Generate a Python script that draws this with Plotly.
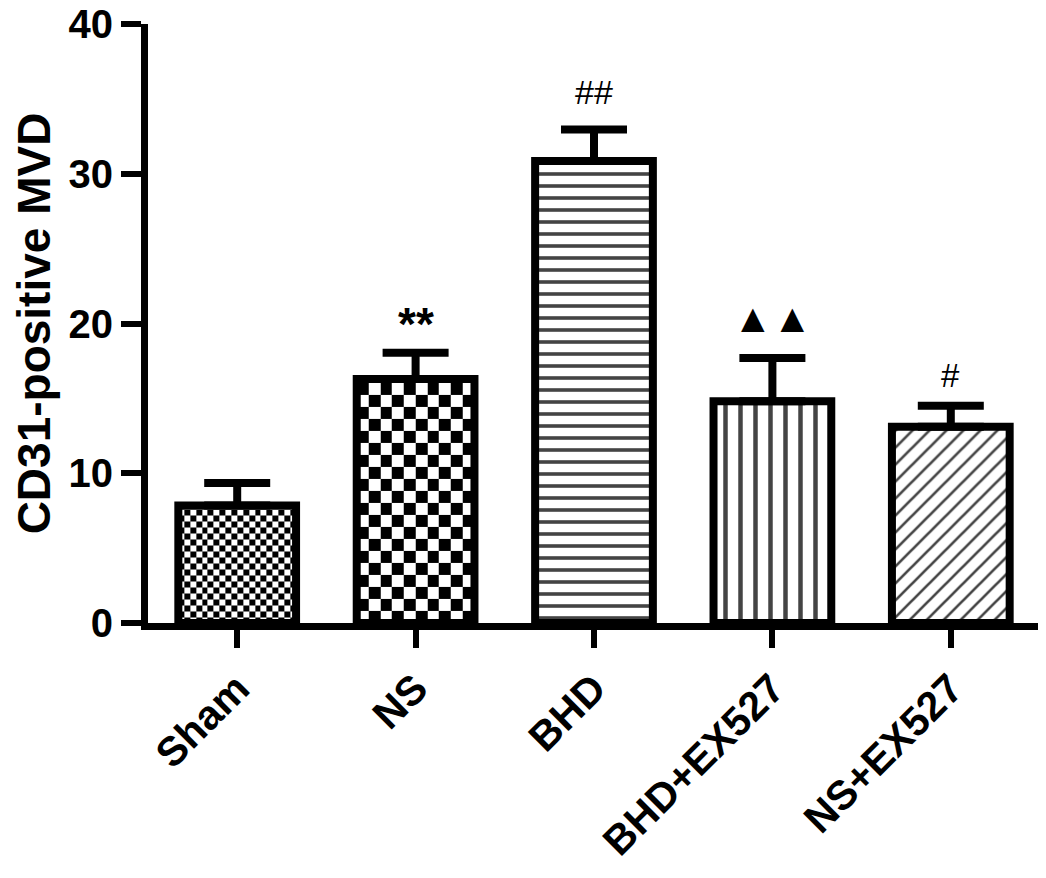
import numpy as np
import plotly.graph_objects as go

# values
groups = ["Sham", "NS", "BHD", "BHD+EX527", "NS+EX527"]
mvd_mean = [7.85, 16.3, 30.85, 14.8, 13.1]
mvd_sem = [1.5, 1.75, 2.1, 2.9, 1.4]
sig_marks = ["", "**", "##", "▲▲", "#"]
y_ticks = [0, 10, 20, 30, 40]

BAR_W = 0.66
FONT = "Arial, Liberation Sans, DejaVu Sans, sans-serif"
xs = list(range(len(groups)))

fig = go.Figure()


# plotly has no checkerboard pattern, so the first two bars get a
# heatmap texture underneath a transparent bar outline
def add_checker(i, ncols, cell_h):
    top = mvd_mean[i]
    xe = np.linspace(i - BAR_W / 2, i + BAR_W / 2, ncols + 1)
    ye = np.append(np.arange(0, top - cell_h * 0.3, cell_h), top)
    z = [[(r + c) % 2 for c in range(ncols)] for r in range(len(ye) - 1)]
    fig.add_trace(go.Heatmap(
        x=xe, y=ye, z=z,
        colorscale=[[0, "white"], [1, "black"]],
        zmin=0, zmax=1, showscale=False, hoverinfo="skip",
    ))


add_checker(0, 20, 0.4)
add_checker(1, 10, 0.8)

fig.add_trace(go.Bar(
    x=xs, y=mvd_mean, width=BAR_W,
    marker=dict(
        color=["rgba(0,0,0,0)", "rgba(0,0,0,0)", "white", "white", "white"],
        line=dict(color="black", width=8),
        pattern=dict(
            shape=["", "", "-", "|", "/"],
            size=[10, 10, 12, 15, 12],  # whole pixels keep the lines crisp
            solidity=[0.3, 0.3, 0.3, 0.3, 0.22],
            fgcolor="black",
            fgopacity=1,
        ),
    ),
    error_y=dict(
        type="data", symmetric=False, array=mvd_sem,
        arrayminus=[0] * len(xs),
        color="black", thickness=8, width=33,
    ),
    hoverinfo="x+y",
))

# significance marks above the error caps
shifts = [0, 29, 38, 40, 30]
sizes = [30, 46, 34, 40, 33]
weights = ["normal", "bold", "normal", "normal", "normal"]
for i, txt in enumerate(sig_marks):
    if not txt:
        continue
    fig.add_annotation(
        x=xs[i], y=mvd_mean[i] + mvd_sem[i], text=txt,
        showarrow=False, yanchor="middle", yshift=shifts[i],
        font=dict(family=FONT, size=sizes[i], color="black", weight=weights[i]),
    )

# page body adds an 8px offset, so the figure is 8px smaller than the window
fig.update_layout(
    width=1038, height=870,
    margin=dict(l=140, r=6, t=16, b=255),
    plot_bgcolor="white", paper_bgcolor="white",
    showlegend=False,
    font=dict(family=FONT, color="black"),
    xaxis=dict(
        range=[-0.5, 4.5], tickvals=xs, ticktext=groups, tickangle=-45,
        tickfont=dict(size=41, weight="bold"),
        showline=True, linewidth=7, linecolor="black",
        ticks="outside", ticklen=18, tickwidth=6, tickcolor="black",
        showgrid=False, zeroline=False, automargin=False,
    ),
    yaxis=dict(
        range=[0, 40], tickvals=y_ticks,
        tickfont=dict(size=40, weight="bold"),
        ticklabeloverflow="allow",
        showline=True, linewidth=7, linecolor="black",
        ticks="outside", ticklen=20, tickwidth=6, tickcolor="black",
        showgrid=False, zeroline=False, automargin=False,
        title=dict(text="CD31-positive MVD", font=dict(size=46, weight="bold"), standoff=12),
    ),
)

fig.write_html("out.html")
